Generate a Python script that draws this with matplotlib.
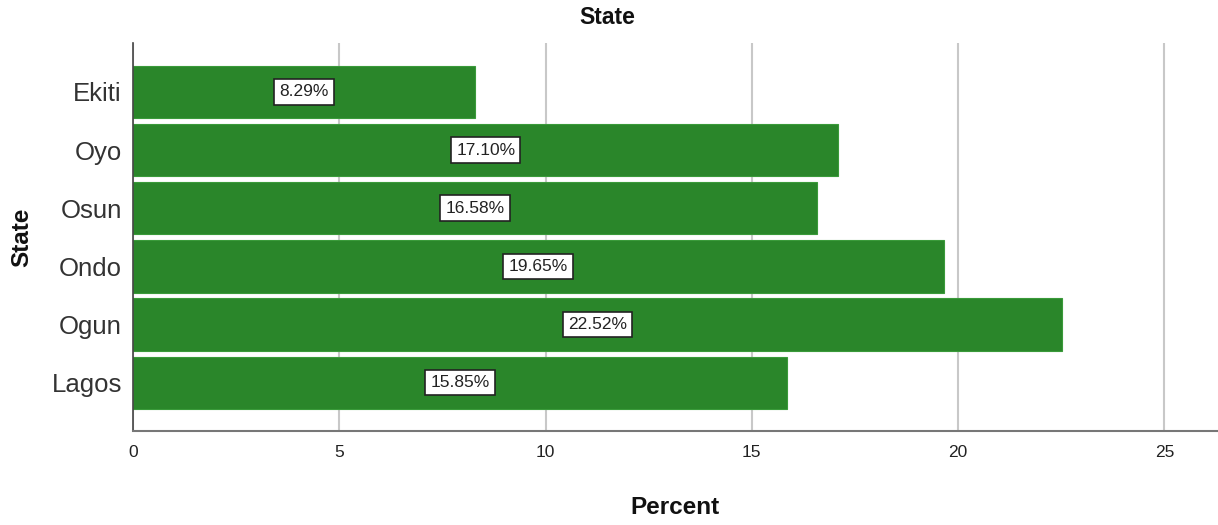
import matplotlib
matplotlib.use('Agg')
import matplotlib.pyplot as plt

states = ['Lagos', 'Ogun', 'Ondo', 'Osun', 'Oyo', 'Ekiti']
percents = [15.85, 22.52, 19.65, 16.58, 17.10, 8.29]
xticks = [0, 5, 10, 15, 20, 25]

plt.rcParams['font.family'] = ['Liberation Sans', 'DejaVu Sans']

fig = plt.figure(figsize=(12.18, 5.25), dpi=100)
ax = fig.add_axes([133 / 1218, 1 - 431 / 525, 1 - 133 / 1218, (431 - 43) / 525])

ypos = list(range(len(states)))
ax.barh(ypos, percents, height=0.9, color='#2a862a', edgecolor='#3a9a3a',
        linewidth=0.8, zorder=2)

for y, v in zip(ypos, percents):
    ax.text(v / 2, y, '%.2f%%' % v, ha='center', va='center', fontsize=12.5,
            color='#222222', zorder=3,
            bbox=dict(boxstyle='square,pad=0.3', facecolor='white',
                      edgecolor='#222222', linewidth=1.2))

ax.set_xlim(0, 26.3)
ax.set_ylim(-0.83, 5.84)
ax.set_xticks(xticks)
ax.set_xticklabels([str(t) for t in xticks], fontsize=12.5, color='#222222')
ax.set_yticks(ypos)
ax.set_yticklabels(states, fontsize=18.5, color='#333333')
ax.tick_params(axis='both', length=0, pad=10)
ax.tick_params(axis='y', pad=8)

ax.grid(axis='x', color='#c8c8c8', linewidth=1.5, zorder=0)
ax.set_axisbelow(True)
for s in ['top', 'right']:
    ax.spines[s].set_visible(False)
ax.spines['left'].set_color('#444444')
ax.spines['bottom'].set_color('#777777')
ax.spines['left'].set_linewidth(1.2)
ax.spines['bottom'].set_linewidth(1.5)

fig.text(607 / 1218, 1 - 18 / 525, 'State', ha='center', va='center',
         fontsize=16.5, fontweight='bold', color='#111111')
fig.text(675 / 1218, 1 - 507 / 525, 'Percent', ha='center', va='center',
         fontsize=17.5, fontweight='bold', color='#111111')
fig.text(22 / 1218, 1 - 237 / 525, 'State', ha='center', va='center',
         rotation=90, fontsize=17.5, fontweight='bold', color='#111111')

plt.savefig('out.png', dpi=100)
